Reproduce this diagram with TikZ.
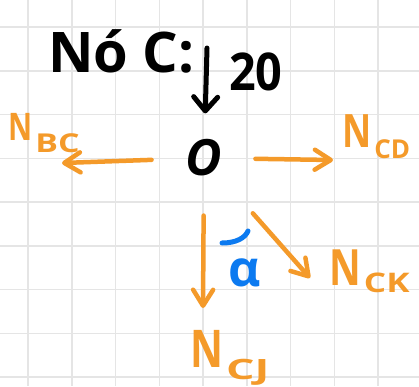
\documentclass[tikz,border=0pt]{standalone}
\usepackage{fontspec}
\setmainfont{Open Sans}
\usetikzlibrary{arrows.meta}
\definecolor{pen}{RGB}{244,154,42}
\definecolor{bluepen}{RGB}{12,122,240}
\definecolor{gridc}{RGB}{229,229,229}
% #1 N size, #2 sub size, #3 drop, #4 sub x-scale, #5 sub text
\newcommand{\Nlab}[5]{\scalebox{0.78}[1]{\fontsize{#1}{#1}\selectfont N}\hspace{3pt}\raisebox{-#3pt}{\scalebox{#4}[1]{\fontsize{#2}{#2}\selectfont #5}}}
\begin{document}
\begin{tikzpicture}[x=1pt,y=-1pt,
  gridline/.style={draw=gridc, line width=1.5pt},
  force/.style={draw=pen, line width=4.5pt, line cap=round, line join=round,
    -{Straight Barb[length=16pt,width=20pt,line cap=round,line join=round]}},
  load/.style={draw=black, line width=5pt, line cap=round, line join=round,
    -{Straight Barb[length=14pt,width=24pt,line cap=round,line join=round]}},
  lbl/.style={text=pen, font=\bfseries, inner sep=0pt, anchor=base west},
  ink/.style={text=black, font=\bfseries, inner sep=0pt}]
\fill[white] (0,0) rectangle (419,386);
\useasboundingbox (0,0) rectangle (419,386);
% grid
\foreach \i in {0,...,8} {
  \draw[gridline] (28+43.75*\i,0) -- (28+43.75*\i,386);
  \draw[gridline] (0,27+43.75*\i) -- (419,27+43.75*\i);
}
% texts
\node[ink, anchor=base west] (title) at (48,72) {\fontsize{56}{56}\selectfont Nó C:};
\node[ink, anchor=base west] (load) at (229,90) {\scalebox{0.9}[1]{\fontsize{52}{52}\selectfont 20}};
\node[ink, font=\bfseries\itshape] (O) at (204,158) {\fontsize{50}{50}\selectfont O};
\node[lbl] (nbc) at (8,140) {\Nlab{38}{26}{12}{1.3}{BC}};
\node[lbl] (ncd) at (342,147) {\Nlab{46}{26}{11}{1.0}{CD}};
\node[lbl] (nck) at (329,285) {\Nlab{50}{27}{7}{1.3}{CK}};
\node[lbl] (ncj) at (190,367) {\Nlab{52}{28}{12}{1.6}{CJ}};
\node[text=bluepen, font=\bfseries, inner sep=0pt] (alpha) at (245,273) {\fontsize{50}{50}\selectfont α};
\draw[bluepen, line width=5pt, line cap=round] (222,243) .. controls (236,243) and (245,238) .. (248,231);
% arrow ends
\coordinate (ctop) at (207,48);
\coordinate (ebc) at (62,163);
\coordinate (ecd) at (333,160);
\coordinate (ecj) at (203,308);
\coordinate (eck) at (310,278);
% arrows
\draw[load, shorten >=26pt] (ctop) -- (O);
\draw[force, shorten <=34pt] (O) -- (ebc);
\draw[force, shorten <=33pt] (O) -- (ecd);
\draw[force, shorten <=39pt] (O) -- (ecj);
\draw[force, shorten <=49pt] (O) -- (eck);
\end{tikzpicture}
\end{document}
